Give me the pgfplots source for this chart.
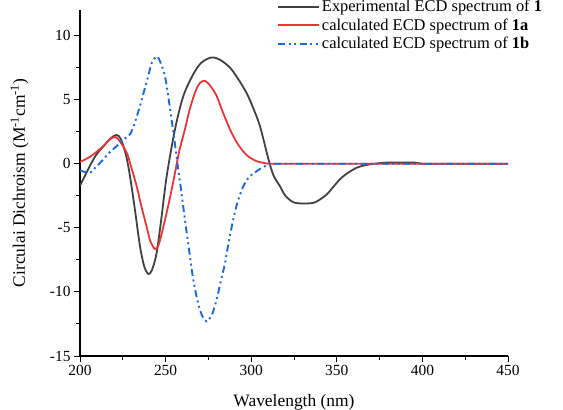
\documentclass[border=0pt]{standalone}
\usepackage{fontspec}
\setmainfont{Liberation Serif}
\usepackage{pgfplots}
\pgfplotsset{compat=1.18}

\definecolor{expgray}{RGB}{64,64,64}
\definecolor{calcred}{RGB}{238,52,52}
\definecolor{calcblue}{RGB}{24,104,226}

\begin{document}
\begin{tikzpicture}
\begin{axis}[
    name=ax,
    scale only axis,
    width=428bp, height=346bp,
    xmin=200, xmax=450,
    ymin=-15, ymax=12,
    xtick={200,250,...,450},
    ytick={-15,-10,...,10},
    minor tick num=1,
    axis x line*=bottom,
    axis y line*=left,
    tick align=outside,
    major tick length=6bp,
    minor tick length=3.5bp,
    every tick/.style={line width=1pt, black},
    axis line style={line width=1.3pt, black},
    tick label style={font=\fontsize{15.5}{18}\selectfont},
    /pgf/number format/assume math mode=true,
    xlabel={Wavelength (nm)},
    ylabel={Circulai Dichroism (M\textsuperscript{-1}cm\textsuperscript{-1})},
    label style={font=\fontsize{17.5}{20}\selectfont},
    xlabel style={at={(axis description cs:0.5,0)}, yshift=-35bp, anchor=north},
    ylabel style={at={(axis description cs:-0.112,0.5)}, anchor=south},
    legend style={at={(rel axis cs:0.46,1.035)}, anchor=north west,
        draw=none, fill=none, font=\fontsize{16.5}{19}\selectfont,
        row sep=1.5bp, inner sep=0pt},
    legend cell align=left,
    legend image code/.code={\draw[#1] (0bp,0bp) -- (41bp,0bp);},
]
\addplot[expgray, line width=1.8pt, smooth] coordinates {
(200,-1.7) (203,-0.9) (206.8,0.1) (210,0.8) (214,1.4) (218,2.0) (221.4,2.25)
(224,1.9) (227,0.6) (229.2,-0.97) (232,-3.5) (235,-6.4) (237.5,-8.0)
(239.9,-8.6) (242,-8.3) (244.7,-7.0) (247.5,-4.3) (250.6,-1.0) (255.5,2.7)
(260.4,5.3) (266.2,7.0) (271,7.9) (276.9,8.3) (282,8.1) (287.6,7.5) (292,6.7)
(297.4,5.5) (301,4.4) (305.1,2.95) (310,0.4) (313,-0.9) (316.8,-1.75)
(320,-2.5) (324.6,-3.0) (330,-3.1) (336.3,-3.05) (340,-2.8) (344.1,-2.4)
(348,-1.8) (351.9,-1.2) (356,-0.75) (361.6,-0.31) (367,-0.1) (373,0.02)
(380,0.1) (388,0.1) (395,0.1) (400,0.0) (410,0) (420,0) (430,0) (440,0) (450,0)
};
\addlegendentry{Experimental ECD spectrum of \textbf{1}}
\addplot[calcred, line width=1.8pt, smooth] coordinates {
(200,0.15) (204,0.4) (207.8,0.73) (213.6,1.38) (217,1.85) (220.4,2.1)
(223,1.8) (227.3,0.86) (230,-0.3) (233.1,-1.75) (236,-3.4) (238.9,-4.9)
(241,-6.0) (243.8,-6.65) (246,-6.3) (248.7,-4.9) (252,-3.0) (255.5,-0.7)
(258,1.0) (261.3,2.69) (264,4.2) (267.2,5.56) (270,6.3) (273,6.47) (276,6.1)
(279.8,5.3) (283.5,4.0) (287.6,2.69) (291,1.8) (294.4,1.12) (298,0.6)
(303.2,0.2) (308,0.05) (312,0) (330,0) (450,0)
};
\addlegendentry{calculated ECD spectrum of \textbf{1a}}
\addplot[calcblue, line width=1.9pt, smooth,
    dash pattern=on 7bp off 3.5bp on 2bp off 3.5bp on 2bp off 3.5bp] coordinates {
(200,-0.53) (205.8,-0.7) (209,-0.3) (213.6,0.34) (217,0.85) (221.4,1.38)
(225,1.85) (229.2,2.3) (232,3.2) (235,4.5) (237.5,5.7) (239.9,6.87) (242,7.9)
(245,8.38) (247,7.9) (249.6,6.87) (251.5,5.3) (253.5,3.47) (255.5,1.5)
(257.4,-0.45) (259.5,-2.5) (261.3,-4.37) (264,-7.0) (266.2,-9.07)
(269,-10.9) (271.5,-11.9) (274,-12.3) (277,-11.8) (279.8,-10.6) (282,-9.3)
(284.7,-7.76) (287,-6.0) (289.5,-4.37) (292,-3.0) (295.4,-1.75) (299,-1.0)
(303.2,-0.58) (307,-0.25) (311,-0.05) (315,0) (330,0) (450,0)
};
\addlegendentry{calculated ECD spectrum of \textbf{1b}}
\end{axis}
\pgfresetboundingbox
\useasboundingbox ([xshift=-80bp,yshift=-54bp]ax.south west) rectangle ([xshift=55bp,yshift=10bp]ax.north east);
\end{tikzpicture}
\end{document}
